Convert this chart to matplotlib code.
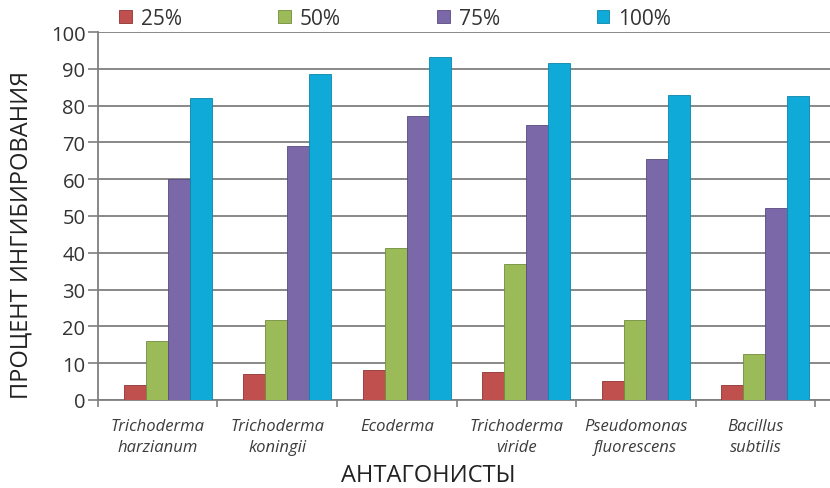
import matplotlib.pyplot as plt
import numpy as np

plt.rcParams['font.family'] = ['Open Sans', 'DejaVu Sans']

# Inhibition percentage per antagonist at each concentration
antagonists = ['Trichoderma\nharzianum', 'Trichoderma\nkoningii', 'Ecoderma',
               'Trichoderma\nviride', 'Pseudomonas\nfluorescens', 'Bacillus\nsubtilis']
conc_labels = ['25%', '50%', '75%', '100%']
vals_25 = [4.2, 7.0, 8.2, 7.7, 5.1, 4.2]
vals_50 = [16.0, 21.6, 41.3, 37.0, 21.6, 12.5]
vals_75 = [60.0, 69.0, 77.3, 74.8, 65.5, 52.1]
vals_100 = [82.0, 88.7, 93.2, 91.7, 83.0, 82.6]

colors = ['#c0504d', '#9bbb59', '#7b68a8', '#10aad8']
edges = ['#8e3432', '#728c3e', '#5a4a80', '#0a86aa']

fig = plt.figure(figsize=(8.3, 4.89), dpi=100)
ax = fig.add_axes([0.118, 0.18, 0.882, 0.7525])

x = np.arange(len(antagonists))
w = 0.184
shift = 0.084
series = [vals_25, vals_50, vals_75, vals_100]
for k, vals in enumerate(series):
    ax.bar(x + shift + (k - 1.5) * w, vals, width=w, color=colors[k],
           edgecolor=edges[k], linewidth=0.6, label=conc_labels[k], zorder=3)

ax.set_ylim(0, 100)
ax.set_xlim(-0.5, 5.625)
ax.set_yticks(np.arange(0, 101, 10))
ax.yaxis.grid(True, color='#7f7f7f', linewidth=1.3, zorder=0)
ax.set_axisbelow(True)

# category labels centred in each slot, ticks on slot boundaries
ax.set_xticks(x)
ax.set_xticklabels(antagonists, fontsize=12, style='italic', color='#3c3c3c',
                   linespacing=1.45)
ax.set_xticks(np.arange(-0.5, 6, 1), minor=True)
ax.tick_params(axis='x', which='major', length=0, pad=13)
ax.tick_params(axis='x', which='minor', length=5, color='#7f7f7f', width=1.2)
ax.tick_params(axis='y', length=7, color='#7f7f7f', width=1.2,
               labelsize=14.5, labelcolor='#333333', pad=2)

for s in ['top', 'right']:
    ax.spines[s].set_visible(False)
for s in ['left', 'bottom']:
    ax.spines[s].set_color('#7f7f7f')
    ax.spines[s].set_linewidth(1.3)

ax.set_xlabel('АНТАГОНИСТЫ', fontsize=17, color='#222222', va='center')
ax.xaxis.set_label_coords((428 - 98) / 732, (401 - 476) / 368)
ax.set_ylabel('ПРОЦЕНТ ИНГИБИРОВАНИЯ', fontsize=17, color='#222222', va='center')
ax.yaxis.set_label_coords((22 - 98) / 732, (401 - 235) / 368)

leg = ax.legend(loc='lower left', bbox_to_anchor=(0.0175, 0.985), ncol=4, frameon=False,
                fontsize=15, handlelength=0.6, handleheight=0.6, handletextpad=0.45,
                columnspacing=4.62, borderaxespad=0, labelcolor='#333333')

fig.savefig('out.png', dpi=100)
